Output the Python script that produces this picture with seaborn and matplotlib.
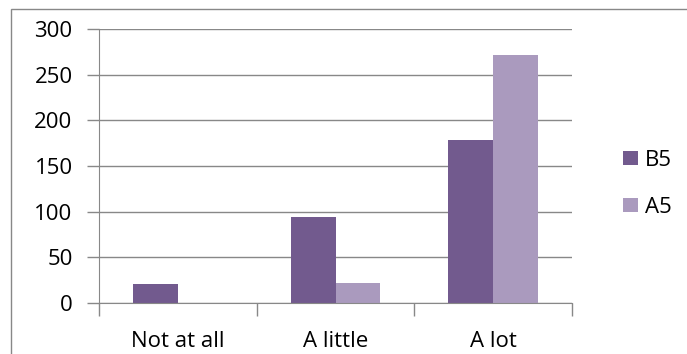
import numpy as np
import pandas as pd
import matplotlib
matplotlib.use("Agg")
import matplotlib.pyplot as plt
import seaborn as sns
from matplotlib.patches import Rectangle

# data
categories = ["Not at all", "A little", "A lot"]
b5 = [21, 94, 179]
a5 = [0, 22, 272]
series = ["B5", "A5"]
colors = ["#725A8E", "#AA9ABE"]

df = pd.DataFrame({
    "answer": categories * 2,
    "value": b5 + a5,
    "group": ["B5"] * 3 + ["A5"] * 3,
})

sns.set_style("white")
plt.rcParams["font.family"] = ["Open Sans", "DejaVu Sans"]
plt.rcParams["text.color"] = "black"
plt.rcParams["xtick.color"] = "black"
plt.rcParams["ytick.color"] = "black"

W, H = 687, 354
fig = plt.figure(figsize=(W / 100, H / 100), dpi=100)
# plot area in pixels: left 99, right 572, top 29, bottom 303
ax = fig.add_axes([99 / W, 1 - 303 / H, (572 - 99) / W, (303 - 29) / H])

sns.barplot(data=df, x="answer", y="value", hue="group", hue_order=series,
            palette=colors, width=0.57, saturation=1, ax=ax, legend=True,
            linewidth=0)

ax.set_ylim(0, 300)
ax.set_xlim(-0.5, 2.5)
ax.set_yticks(range(0, 301, 50))
ax.yaxis.grid(True, color="#888888", linewidth=1)
ax.set_axisbelow(True)
ax.set_xlabel("")
ax.set_ylabel("")

for s in ["top", "right"]:
    ax.spines[s].set_visible(False)
ax.spines["left"].set_color("#888888")
ax.spines["bottom"].set_color("#888888")

# y ticks outward to the left, x ticks at category boundaries
ax.tick_params(axis="y", direction="out", length=9, color="#888888",
               width=1, labelsize=16, pad=10, left=True)
ax.set_xticks([0, 1, 2])
ax.set_xticklabels(categories)
ax.tick_params(axis="x", length=0, labelsize=16, pad=20)
ax.set_xticks([-0.5, 0.5, 1.5, 2.5], minor=True)
ax.tick_params(axis="x", which="minor", direction="out", length=9,
               color="#888888", width=1, bottom=True)

leg = ax.legend(loc="center left", bbox_to_anchor=(1.09, 0.435), frameon=False,
                fontsize=16, handlelength=0.65, handleheight=0.65,
                handletextpad=0.3, labelspacing=1.17, borderaxespad=0)

# outer chart frame
fig.patches.append(Rectangle((11 / W, -0.1), 1.2, 1 - 9 / H + 0.1,
                             transform=fig.transFigure, fill=False,
                             edgecolor="#888888", linewidth=1))

fig.savefig("out.png", dpi=100)
